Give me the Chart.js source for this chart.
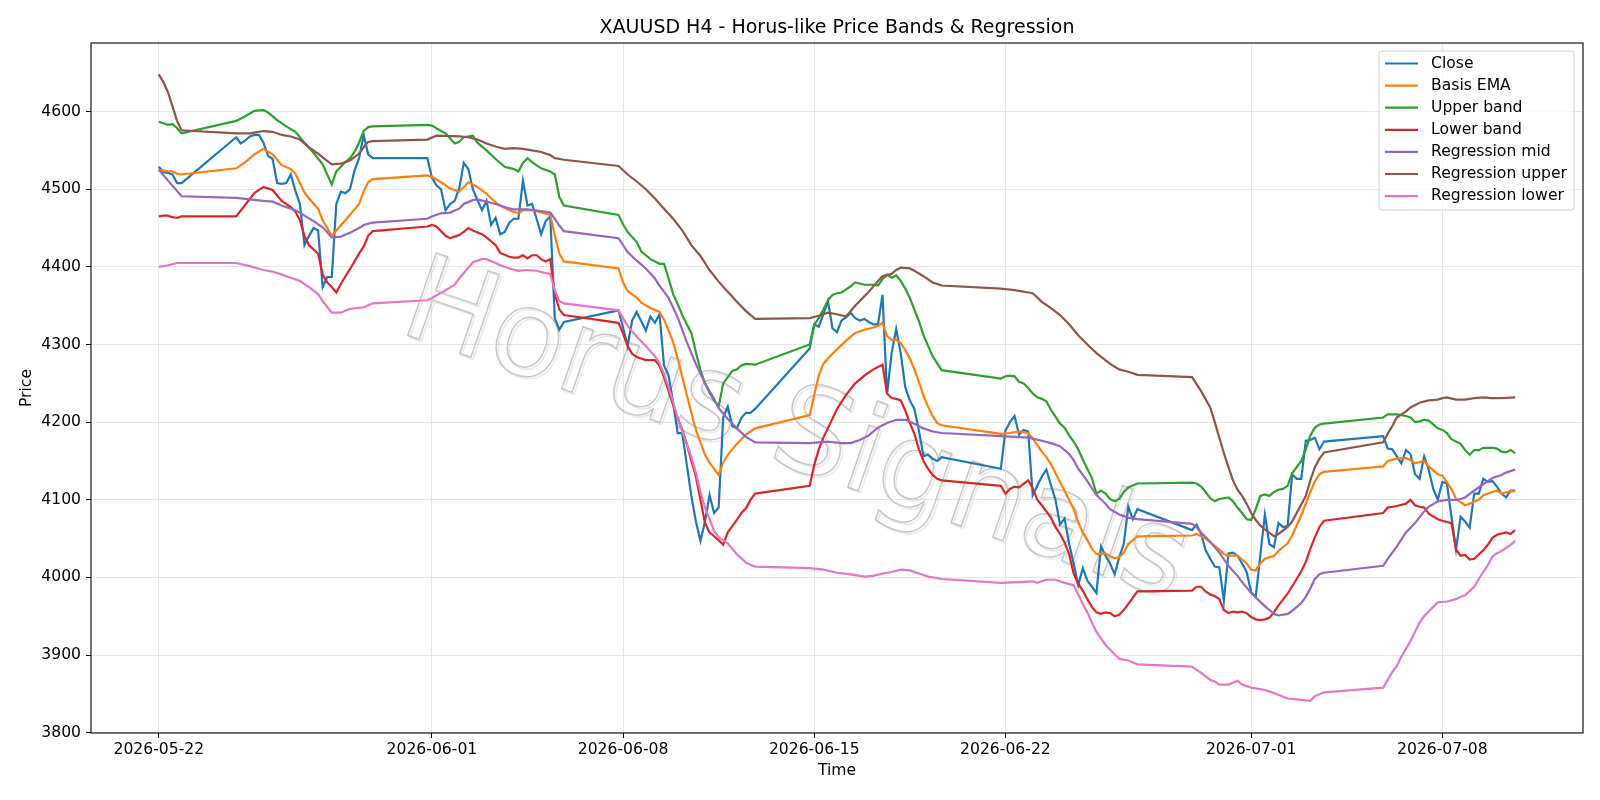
<!DOCTYPE html>
<html>
<head>
<meta charset="utf-8">
<script src="https://cdn.jsdelivr.net/npm/chart.js@4.4.1/dist/chart.umd.min.js"></script>
<style>
  html, body { margin: 0; padding: 0; background: #fff; }
  #wrap { width: 1600px; height: 800px; }
</style>
</head>
<body>
<div id="wrap"><canvas id="myChart" width="1600" height="800"></canvas></div>
<script>
// x = hours since 2026-05-22 00:00 (H4 bars, weekends skipped)
const tickHours = [0, 240, 408, 576, 744, 960, 1128];
const tickLabels = ['2026-05-22', '2026-06-01', '2026-06-08', '2026-06-15', '2026-06-22', '2026-07-01', '2026-07-08'];
const priceTicks = [3800, 3900, 4000, 4100, 4200, 4300, 4400, 4500, 4600];

const closePts = [
  [0,4529],[4,4522],[8,4521],[12,4519],[16,4508],[20,4508],
  [68,4567],[72,4559],[76,4563],[80,4568],[84,4570],[88,4570],[92,4560],[96,4543],[100,4539],[104,4508],[108,4507],[112,4508],[116,4519],[120,4498],[124,4481],[128,4428],[132,4440],[136,4450],[140,4447],[144,4374],[148,4387],[152,4387],[156,4481],[160,4497],[164,4495],[168,4500],[172,4524],[176,4540],[180,4570],[184,4545],[188,4540],
  [236,4540],[240,4515],[244,4505],[248,4500],[252,4473],[256,4481],[260,4485],[264,4501],[268,4534],[272,4526],[276,4500],[280,4486],[284,4473],[288,4485],[292,4454],[296,4463],[300,4442],[304,4445],[308,4457],[312,4462],[316,4462],[320,4511],[324,4479],[328,4481],[332,4462],[336,4442],[340,4459],[344,4465],[348,4334],[352,4319],[356,4329],
  [404,4344],[408,4322],[412,4298],[416,4331],[420,4342],[424,4330],[428,4318],[432,4336],[436,4328],[440,4339],[444,4273],[448,4260],[452,4225],[456,4186],[460,4186],[464,4145],[468,4105],[472,4072],[476,4047],[480,4072],[484,4106],[488,4083],[492,4090],[496,4206],[500,4220],[504,4195],[508,4192],[512,4206],[516,4212],[520,4212],[524,4217],
  [572,4295],[576,4326],[580,4323],[584,4339],[588,4356],[592,4321],[596,4316],[600,4331],[604,4335],[608,4341],[612,4334],[616,4331],[620,4333],[624,4329],[628,4326],[632,4326],[636,4364],[640,4236],[644,4289],[648,4320],[652,4289],[656,4245],[660,4228],[664,4217],[668,4189],[672,4156],[676,4158],[680,4153],[684,4150],[688,4155],
  [740,4140],[744,4189],[748,4200],[752,4208],[756,4184],[760,4190],[764,4188],[768,4106],[772,4118],[776,4130],[780,4139],[784,4119],[788,4100],[792,4068],[796,4076],[800,4043],[804,4018],[808,3990],[812,4012],[816,3996],[820,3988],[824,3980],[828,4040],[832,4028],[836,4018],[840,4004],[844,4026],[848,4043],[852,4091],[856,4075],[860,4088],
  [908,4061],[912,4068],[916,4056],[920,4035],[924,4024],[928,4014],[932,4013],[936,3970],[940,4031],[944,4032],[948,4028],[952,4018],[956,4007],[960,3981],[964,3975],[968,4028],[972,4081],[976,4043],[980,4039],[984,4070],[988,4065],[992,4066],[996,4133],[1000,4127],[1004,4127],[1008,4176],[1012,4177],[1016,4180],[1020,4165],[1024,4175],
  [1076,4182],[1080,4166],[1084,4165],[1088,4156],[1092,4147],[1096,4164],[1100,4159],[1104,4133],[1108,4127],[1112,4156],[1116,4139],[1120,4114],[1124,4100],[1128,4123],[1132,4121],[1136,4078],[1140,4036],[1144,4078],[1148,4072],[1152,4064],[1156,4108],[1160,4108],[1164,4127],[1168,4123],[1172,4124],[1176,4117],[1180,4108],[1184,4103],[1188,4112],[1192,4112]
];

const basisPts = [
  [0,4525],[4,4524],[8,4523],[12,4523],[16,4520],[20,4519],
  [68,4527],[76,4535],[84,4545],[92,4552],[100,4545],[108,4531],[116,4526],[120,4520],[124,4508],[128,4496],[132,4488],[140,4475],[144,4460],[148,4450],[152,4440],[156,4447],[164,4460],[168,4467],[176,4481],[180,4497],[184,4509],[188,4513],
  [236,4518],[240,4516],[248,4509],[256,4501],[264,4497],[268,4503],[272,4509],[280,4503],[288,4494],[296,4483],[300,4479],[308,4473],[316,4469],[320,4473],[328,4473],[336,4470],[344,4467],[348,4440],[352,4417],[356,4407],
  [404,4398],[408,4380],[412,4369],[420,4360],[424,4354],[432,4347],[440,4342],[444,4332],[448,4318],[452,4303],[456,4282],[464,4235],[468,4212],[472,4190],[480,4158],[484,4148],[492,4132],[496,4148],[500,4158],[508,4172],[516,4184],[524,4192],
  [572,4209],[576,4235],[580,4260],[584,4275],[588,4282],[596,4294],[604,4305],[612,4315],[620,4319],[628,4322],[632,4324],[636,4328],[640,4311],[644,4306],[648,4306],[652,4302],[656,4293],[660,4282],[664,4268],[668,4252],[672,4234],[676,4220],[680,4208],[684,4199],[688,4196],
  [740,4185],[748,4186],[756,4188],[764,4186],[768,4179],[776,4162],[780,4155],[784,4146],[792,4123],[800,4100],[804,4088],[808,4071],[812,4058],[816,4048],[820,4037],[824,4030],[832,4031],[836,4027],[840,4025],[844,4026],[848,4032],[852,4043],[860,4053],
  [908,4054],[912,4056],[920,4050],[924,4045],[932,4036],[936,4030],[940,4028],[948,4028],[956,4018],[960,4010],[964,4009],[968,4018],[972,4024],[980,4028],[984,4034],[992,4044],[996,4054],[1004,4080],[1008,4095],[1012,4110],[1016,4124],[1020,4133],[1024,4136],
  [1076,4143],[1080,4150],[1088,4153],[1096,4154],[1100,4151],[1104,4147],[1112,4150],[1116,4143],[1124,4133],[1128,4131],[1136,4114],[1140,4101],[1148,4093],[1152,4095],[1160,4100],[1164,4106],[1172,4110],[1176,4112],[1180,4108],[1188,4111],[1192,4111]
];

const upperPts = [
  [0,4587],[4,4585],[8,4583],[12,4584],[16,4579],[20,4572],
  [68,4588],[76,4594],[84,4601],[92,4602],[96,4599],[104,4589],[112,4581],[120,4574],[128,4560],[136,4547],[144,4532],[148,4519],[152,4506],[156,4523],[164,4535],[168,4540],[172,4548],[176,4560],[180,4575],[184,4580],[188,4581],
  [236,4583],[240,4582],[248,4575],[252,4572],[260,4559],[264,4561],[268,4567],[276,4569],[280,4560],[288,4550],[296,4539],[304,4529],[312,4526],[316,4523],[320,4534],[324,4540],[328,4535],[336,4527],[344,4523],[348,4519],[352,4490],[356,4479],
  [404,4467],[408,4455],[412,4445],[420,4432],[424,4420],[428,4415],[432,4410],[440,4404],[444,4404],[448,4385],[452,4365],[456,4352],[460,4338],[464,4326],[468,4315],[472,4290],[476,4267],[480,4250],[484,4238],[488,4228],[492,4220],[496,4250],[500,4258],[504,4266],[508,4268],[512,4273],[516,4275],[524,4274],
  [572,4300],[576,4326],[580,4334],[584,4345],[588,4357],[592,4364],[596,4366],[600,4367],[604,4371],[608,4375],[612,4380],[620,4377],[628,4377],[632,4376],[636,4384],[640,4390],[644,4386],[648,4389],[652,4382],[656,4372],[660,4360],[664,4345],[668,4330],[672,4312],[680,4285],[688,4267],
  [740,4256],[744,4259],[748,4260],[752,4259],[756,4252],[760,4250],[764,4244],[768,4237],[772,4232],[776,4230],[780,4227],[784,4216],[788,4207],[792,4198],[796,4193],[800,4183],[804,4175],[808,4165],[812,4152],[816,4140],[820,4128],[824,4108],[828,4112],[832,4108],[836,4101],[840,4098],[844,4101],[848,4110],[852,4116],[860,4121],
  [908,4122],[912,4121],[916,4117],[920,4110],[924,4102],[928,4098],[932,4101],[936,4102],[940,4103],[944,4098],[948,4090],[952,4083],[956,4075],[960,4074],[964,4088],[968,4105],[972,4107],[976,4105],[980,4110],[984,4113],[988,4114],[992,4118],[996,4134],[1000,4142],[1004,4150],[1008,4165],[1012,4183],[1016,4193],[1020,4197],[1024,4198],
  [1076,4206],[1080,4210],[1088,4210],[1096,4208],[1100,4206],[1104,4200],[1108,4201],[1112,4203],[1116,4202],[1124,4192],[1128,4190],[1132,4186],[1136,4178],[1144,4172],[1148,4164],[1152,4158],[1156,4164],[1160,4164],[1164,4167],[1172,4167],[1176,4166],[1180,4162],[1184,4161],[1188,4164],[1192,4160]
];

const lowerPts = [
  [0,4465],[4,4466],[8,4466],[12,4464],[16,4463],[20,4465],
  [68,4465],[76,4480],[84,4495],[92,4503],[100,4499],[108,4485],[116,4477],[120,4471],[124,4460],[128,4440],[132,4428],[140,4417],[144,4390],[148,4380],[152,4374],[156,4367],[160,4378],[164,4388],[168,4397],[176,4417],[180,4426],[184,4440],[188,4446],
  [236,4452],[240,4454],[244,4452],[252,4440],[256,4437],[260,4439],[264,4441],[268,4445],[272,4450],[276,4447],[284,4442],[288,4438],[296,4428],[300,4418],[308,4413],[312,4412],[316,4412],[320,4415],[324,4411],[328,4415],[332,4415],[336,4410],[340,4407],[344,4410],[348,4365],[352,4345],[356,4338],
  [404,4328],[408,4314],[412,4298],[416,4288],[420,4284],[428,4280],[436,4280],[440,4273],[444,4258],[448,4240],[452,4222],[456,4205],[460,4190],[464,4172],[468,4150],[472,4130],[476,4100],[480,4070],[484,4058],[488,4053],[492,4048],[496,4042],[500,4058],[504,4066],[508,4074],[512,4083],[516,4089],[520,4100],[524,4108],
  [572,4118],[576,4145],[580,4165],[584,4180],[588,4192],[596,4217],[604,4235],[612,4250],[620,4260],[628,4268],[632,4271],[636,4274],[640,4237],[644,4231],[648,4230],[652,4228],[656,4215],[660,4199],[664,4185],[668,4165],[672,4150],[676,4140],[680,4132],[684,4127],[688,4125],
  [740,4118],[744,4108],[748,4114],[752,4117],[756,4116],[764,4125],[768,4115],[772,4100],[776,4093],[780,4085],[784,4077],[788,4065],[792,4056],[796,4045],[800,4030],[804,4005],[808,3992],[812,3983],[816,3972],[820,3962],[824,3955],[828,3953],[832,3955],[836,3954],[840,3950],[844,3952],[848,3958],[852,3966],[860,3982],
  [908,3983],[912,3988],[916,3988],[920,3982],[924,3978],[928,3976],[932,3972],[936,3958],[940,3954],[944,3956],[948,3955],[952,3956],[956,3954],[960,3949],[964,3946],[968,3945],[972,3946],[976,3948],[980,3955],[984,3964],[992,3979],[1000,3998],[1004,4008],[1008,4020],[1012,4037],[1016,4052],[1020,4065],[1024,4073],
  [1076,4083],[1080,4090],[1088,4092],[1096,4095],[1100,4100],[1104,4093],[1108,4091],[1112,4090],[1116,4082],[1124,4075],[1128,4073],[1136,4070],[1140,4036],[1144,4028],[1148,4029],[1152,4023],[1156,4024],[1164,4035],[1168,4042],[1172,4051],[1176,4055],[1184,4058],[1188,4056],[1192,4061]
];

const regMidPts = [
  [0,4525],[20,4491],
  [68,4489],[92,4485],[100,4484],[108,4479],[120,4473],[128,4466],[136,4459],[144,4451],[152,4438],[160,4439],[168,4444],[176,4450],[180,4454],[188,4457],
  [236,4462],[240,4465],[248,4469],[256,4470],[264,4475],[268,4481],[276,4486],[280,4487],[288,4484],[296,4481],[304,4477],[312,4474],[324,4474],[336,4472],[344,4470],[348,4462],[352,4453],[356,4446],
  [404,4437],[412,4419],[420,4408],[428,4398],[436,4385],[440,4376],[448,4360],[456,4335],[464,4303],[472,4275],[480,4250],[488,4230],[492,4218],[500,4204],[508,4192],[516,4181],[524,4174],
  [572,4173],[588,4175],[600,4173],[608,4173],[616,4177],[624,4183],[632,4193],[640,4199],[648,4203],[656,4203],[664,4198],[672,4192],[680,4188],[688,4186],
  [740,4182],[764,4180],[776,4176],[784,4173],[792,4169],[800,4159],[804,4151],[808,4140],[816,4124],[824,4106],[832,4095],[836,4088],[844,4081],[852,4077],[860,4075],
  [908,4069],[912,4065],[916,4058],[924,4046],[928,4039],[932,4032],[940,4015],[948,4002],[952,3994],[960,3980],[964,3974],[972,3963],[976,3958],[980,3953],[984,3951],[992,3953],[996,3957],[1004,3967],[1008,3975],[1012,3986],[1016,3998],[1020,4004],[1024,4006],
  [1076,4015],[1080,4024],[1088,4040],[1096,4058],[1104,4070],[1112,4085],[1116,4091],[1124,4098],[1132,4100],[1140,4100],[1144,4101],[1148,4103],[1156,4112],[1160,4116],[1168,4124],[1172,4128],[1180,4132],[1184,4135],[1192,4139]
];

const regUpperPts = [
  [0,4648],[4,4638],[8,4625],[12,4607],[16,4588],[20,4576],
  [68,4572],[80,4572],[92,4575],[100,4574],[108,4570],[116,4568],[124,4564],[132,4554],[140,4546],[144,4541],[152,4532],[160,4533],[168,4537],[176,4546],[180,4554],[184,4561],[188,4562],
  [236,4564],[244,4569],[264,4568],[272,4567],[280,4564],[288,4559],[296,4555],[304,4552],[312,4553],[320,4552],[328,4550],[336,4548],[344,4544],[348,4540],[356,4538],
  [404,4530],[412,4519],[420,4510],[428,4500],[436,4488],[444,4475],[452,4462],[460,4447],[468,4428],[476,4414],[484,4396],[492,4381],[500,4368],[508,4355],[516,4343],[524,4333],
  [572,4334],[580,4337],[588,4341],[596,4339],[604,4336],[612,4350],[620,4362],[624,4368],[632,4382],[636,4388],[644,4391],[648,4396],[652,4399],[660,4398],[664,4395],[672,4388],[680,4380],[688,4376],
  [740,4372],[752,4370],[768,4366],[776,4355],[784,4347],[792,4338],[800,4326],[808,4312],[816,4300],[824,4289],[836,4275],[844,4268],[852,4265],[860,4261],
  [908,4258],[912,4249],[916,4240],[924,4219],[928,4200],[932,4180],[936,4160],[940,4142],[944,4125],[948,4113],[952,4105],[956,4095],[960,4083],[964,4074],[968,4067],[972,4062],[980,4053],[984,4056],[992,4065],[996,4072],[1000,4083],[1004,4094],[1008,4105],[1012,4125],[1016,4142],[1020,4153],[1024,4161],
  [1076,4174],[1080,4185],[1084,4195],[1088,4206],[1096,4214],[1100,4219],[1108,4225],[1116,4228],[1124,4229],[1128,4231],[1132,4232],[1140,4229],[1148,4229],[1156,4231],[1164,4232],[1172,4231],[1180,4231],[1192,4232]
];

const regLowerPts = [
  [0,4400],[8,4402],[16,4405],[20,4405],
  [68,4405],[80,4401],[92,4396],[100,4394],[108,4390],[116,4386],[124,4382],[132,4374],[140,4365],[144,4356],[152,4341],[160,4341],[168,4346],[180,4348],[188,4353],
  [236,4357],[240,4360],[252,4370],[260,4377],[264,4385],[272,4399],[276,4406],[284,4410],[288,4410],[296,4405],[300,4402],[308,4398],[316,4395],[324,4396],[332,4395],[340,4392],[344,4391],[348,4370],[352,4356],[356,4353],
  [404,4344],[412,4324],[420,4310],[428,4298],[436,4285],[440,4276],[444,4262],[448,4245],[452,4226],[456,4205],[460,4188],[464,4172],[468,4155],[472,4135],[476,4110],[480,4090],[484,4075],[488,4060],[492,4052],[500,4044],[508,4030],[516,4019],[524,4014],
  [572,4012],[584,4010],[596,4006],[608,4004],[620,4001],[628,4002],[636,4005],[644,4007],[652,4010],[660,4009],[668,4005],[676,4001],[688,3998],
  [740,3993],[756,3994],[768,3995],[772,3993],[780,3997],[788,3997],[796,3993],[804,3990],[808,3978],[812,3966],[816,3955],[820,3942],[824,3930],[832,3913],[840,3901],[844,3895],[852,3893],[860,3888],
  [908,3885],[916,3877],[924,3868],[928,3866],[932,3862],[940,3862],[948,3867],[952,3862],[960,3858],[972,3855],[980,3851],[992,3844],[1000,3843],[1012,3841],[1016,3847],[1024,3852],
  [1076,3858],[1080,3868],[1084,3878],[1088,3886],[1092,3898],[1096,3908],[1100,3918],[1104,3930],[1108,3942],[1112,3950],[1116,3956],[1124,3968],[1132,3969],[1140,3972],[1144,3975],[1148,3977],[1156,3988],[1160,3998],[1164,4007],[1168,4016],[1172,4027],[1176,4031],[1180,4034],[1188,4042],[1192,4047]
];

const seriesNames = ['Close', 'Basis EMA', 'Upper band', 'Lower band', 'Regression mid', 'Regression upper', 'Regression lower'];
const seriesColors = ['#1f77b4', '#ff7f0e', '#2ca02c', '#d62728', '#9467bd', '#8c564b', '#e377c2'];
const seriesPts = [closePts, basisPts, upperPts, lowerPts, regMidPts, regUpperPts, regLowerPts];

const FONT = 'DejaVu Sans';

// title, axis labels, frame, legend and watermark, drawn the matplotlib way
const decor = {
  id: 'decor',
  beforeDraw(chart) {
    const ctx = chart.ctx;
    ctx.save();
    ctx.fillStyle = '#fff';
    ctx.fillRect(0, 0, chart.width, chart.height);
    ctx.restore();
  },
  beforeDatasetsDraw(chart) {
    const ctx = chart.ctx;
    ctx.save();
    ctx.translate(795, 436);
    ctx.rotate(19 * Math.PI / 180);
    ctx.font = '120px "' + FONT + '"';
    ctx.textAlign = 'center';
    ctx.textBaseline = 'middle';
    ctx.shadowColor = 'rgba(0,0,0,0.12)';
    ctx.shadowOffsetX = 2;
    ctx.shadowOffsetY = 2;
    ctx.shadowBlur = 1;
    ctx.strokeStyle = 'rgba(190,190,190,0.85)';
    ctx.lineWidth = 1.5;
    ctx.strokeText('Horus Signals', 0, 0);
    ctx.restore();
  },
  afterDraw(chart) {
    const ctx = chart.ctx;
    const a = chart.chartArea;
    const cx = (a.left + a.right) / 2;
    ctx.save();
    ctx.strokeStyle = '#000';
    ctx.lineWidth = 1.1;
    ctx.strokeRect(a.left, a.top, a.right - a.left, a.bottom - a.top);

    ctx.fillStyle = '#000';
    ctx.textAlign = 'center';
    ctx.font = '19px "' + FONT + '"';
    ctx.textBaseline = 'alphabetic';
    ctx.fillText('XAUUSD H4 - Horus-like Price Bands & Regression', cx, 33);

    ctx.font = '15.6px "' + FONT + '"';
    ctx.textBaseline = 'middle';
    ctx.fillText('Time', cx, 771);
    ctx.save();
    ctx.translate(27, (a.top + a.bottom) / 2);
    ctx.rotate(-Math.PI / 2);
    ctx.fillText('Price', 0, 0);
    ctx.restore();

    // legend
    const lx = 1379, ly = 51, lw = 195, lh = 159;
    ctx.beginPath();
    ctx.roundRect(lx, ly, lw, lh, 3);
    ctx.fillStyle = 'rgba(255,255,255,0.8)';
    ctx.fill();
    ctx.strokeStyle = '#d0d0d0';
    ctx.lineWidth = 1;
    ctx.stroke();
    ctx.textAlign = 'left';
    chart.data.datasets.forEach((ds, i) => {
      const y = 63.5 + i * 22.1;
      ctx.strokeStyle = ds.borderColor;
      ctx.lineWidth = 2.2;
      ctx.beginPath();
      ctx.moveTo(1385, y);
      ctx.lineTo(1418, y);
      ctx.stroke();
      ctx.fillStyle = '#000';
      ctx.fillText(ds.label, 1431, y);
    });
    ctx.restore();
  }
};

new Chart('myChart', {
  type: 'line',
  data: {
    datasets: seriesNames.map((name, i) => ({
      label: name,
      data: seriesPts[i].map(p => ({ x: p[0], y: p[1] })),
      borderColor: seriesColors[i],
      backgroundColor: seriesColors[i],
      borderWidth: 2.2,
      pointRadius: 0,
      tension: 0,
      fill: false,
      order: seriesNames.length - i
    }))
  },
  options: {
    responsive: false,
    devicePixelRatio: 1,
    animation: false,
    layout: { padding: { top: 43, right: 17, left: 0, bottom: 0 } },
    plugins: {
      legend: { display: false },
      title: { display: false },
      tooltip: { enabled: false }
    },
    scales: {
      x: {
        type: 'linear',
        min: -59.6,
        max: 1251.6,
        afterBuildTicks: (s) => { s.ticks = tickHours.map(v => ({ value: v })); },
        afterFit: (s) => { s.height = 67; },
        ticks: {
          callback: (v) => tickLabels[tickHours.indexOf(v)],
          color: '#000',
          font: { family: FONT, size: 15.6 },
          padding: 3,
          maxRotation: 0,
          autoSkip: false
        },
        grid: { color: '#e6e6e6', lineWidth: 1, tickLength: 5, tickColor: '#000', tickWidth: 1 },
        border: { display: false }
      },
      y: {
        type: 'linear',
        min: 3799.6,
        max: 4688.4,
        afterBuildTicks: (s) => { s.ticks = priceTicks.map(v => ({ value: v })); },
        afterFit: (s) => { s.width = 91; },
        ticks: {
          callback: (v) => String(v),
          color: '#000',
          font: { family: FONT, size: 15.6 },
          padding: 5
        },
        grid: { color: '#e6e6e6', lineWidth: 1, tickLength: 5, tickColor: '#000', tickWidth: 1 },
        border: { display: false }
      }
    }
  },
  plugins: [decor]
});
</script>
</body>
</html>
